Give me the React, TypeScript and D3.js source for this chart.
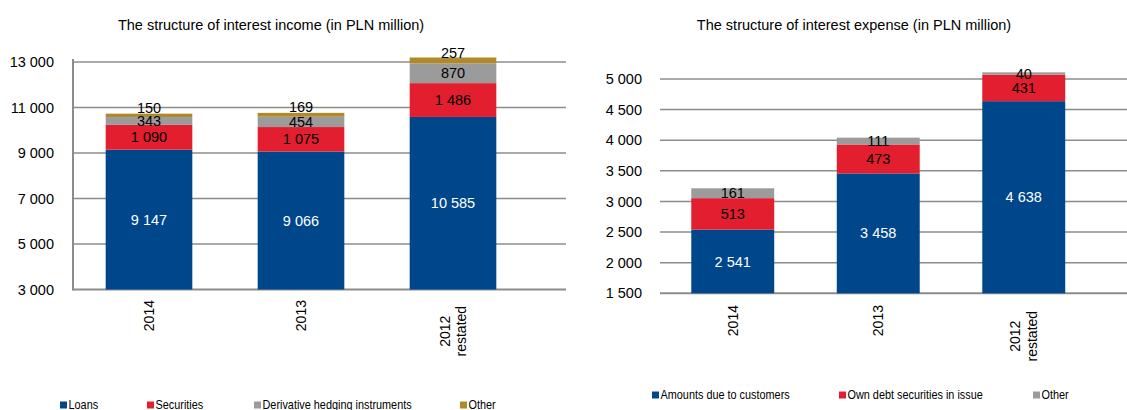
import React from "react";
import * as d3 from "d3";

const incomeYears = ["2014", "2013", "2012\nrestated"];
const incomeSeries = ["Loans", "Securities", "Derivative hedging instruments", "Other"];
const incomeLoans = [9147, 9066, 10585];
const incomeSecurities = [1090, 1075, 1486];
const incomeDerivatives = [343, 454, 870];
const incomeOther = [150, 169, 257];
const incomeTicks = [3000, 5000, 7000, 9000, 11000, 13000];

const expenseYears = ["2014", "2013", "2012\nrestated"];
const expenseSeries = ["Amounts due to customers", "Own debt securities in issue", "Other"];
const expenseCustomers = [2541, 3458, 4638];
const expenseDebt = [513, 473, 431];
const expenseOther = [161, 111, 40];
const expenseTicks = [1500, 2000, 2500, 3000, 3500, 4000, 4500, 5000];

const BLUE = "#00468B";
const RED = "#E31E2E";
const GRAY = "#9B9B9B";
const GOLD = "#B08A2A";
const GRID = "#8C8C8C";
const FONT = "'Liberation Sans', Arial, sans-serif";

const fmt = (v: number) => {
  const s = String(Math.round(v));
  return s.replace(/\B(?=(\d{3})+(?!\d))/g, " ");
};

type PanelProps = {
  title: string;
  titleX: number;
  categories: string[];
  seriesNames: string[];
  seriesValues: number[][];
  colors: string[];
  labelColors: string[];
  labelOffsets: number[];
  ticks: number[];
  yDomain: [number, number];
  yRange: [number, number];
  xRange: [number, number];
  gridX: [number, number];
  axisLineX: number | null;
  tickLabelX: number;
  xLabelTop: number;
  legendY: number;
  legendX: number[];
  padding: number;
};

function Panel(p: PanelProps) {
  const y = d3.scaleLinear().domain(p.yDomain).range(p.yRange);
  const x = d3
    .scaleBand<string>()
    .domain(p.categories)
    .range(p.xRange)
    .paddingInner(p.padding)
    .paddingOuter(p.padding / 2);

  const table = p.categories.map((c, i) => {
    const row: any = { cat: c };
    p.seriesNames.forEach((s, j) => (row[s] = p.seriesValues[j][i]));
    return row;
  });
  const stacked = d3.stack<any>().keys(p.seriesNames)(table);
  const [y0, y1] = p.yDomain;

  return (
    <g>
      <text
        x={p.titleX}
        y={30}
        textAnchor="middle"
        fontSize={14.5}
        fontFamily={FONT}
        fill="#000"
      >
        {p.title}
      </text>
      {p.ticks.map((t, i) => (
        <g key={t}>
          <line
            x1={p.gridX[0]}
            x2={p.gridX[1]}
            y1={y(t)}
            y2={y(t)}
            stroke={GRID}
            strokeWidth={i === 0 ? 2 : 1.5}
          />
          <text
            x={p.tickLabelX}
            y={y(t)}
            dy="0.35em"
            textAnchor="end"
            fontSize={14.5}
            fontFamily={FONT}
            fill="#000"
          >
            {fmt(t)}
          </text>
        </g>
      ))}
      {p.axisLineX !== null && (
        <line
          x1={p.axisLineX}
          x2={p.axisLineX}
          y1={y(y1) - 3}
          y2={y(y0) + 1}
          stroke={GRID}
          strokeWidth={2}
        />
      )}
      {stacked.map((layer, j) => (
        <g key={layer.key}>
          {layer.map((d, i) => {
            const lo = Math.max(d[0], y0);
            const hi = d[1];
            return (
              <rect
                key={i}
                x={x(p.categories[i])}
                width={x.bandwidth()}
                y={y(hi)}
                height={y(lo) - y(hi)}
                fill={p.colors[j]}
              />
            );
          })}
        </g>
      ))}
      {stacked.map((layer, j) => (
        <g key={"l" + layer.key}>
          {layer.map((d, i) => {
            const lo = Math.max(d[0], y0);
            const mid = (lo + d[1]) / 2;
            return (
              <text
                key={i}
                x={(x(p.categories[i]) as number) + x.bandwidth() / 2}
                y={y(mid) + p.labelOffsets[j]}
                dy="0.35em"
                textAnchor="middle"
                fontSize={14.5}
                fontFamily={FONT}
                fill={p.labelColors[j]}
              >
                {fmt(d[1] - d[0])}
              </text>
            );
          })}
        </g>
      ))}
      {p.categories.map((c) => {
        const lines = c.split("\n");
        const cx = (x(c) as number) + x.bandwidth() / 2;
        const maxLen = d3.max(lines, (l) => l.length * 7.8) as number;
        const cy = p.xLabelTop + maxLen / 2;
        const n = lines.length;
        return (
          <g key={c}>
            {lines.map((l, k) => {
              const lx = cx + (k - (n - 1) / 2) * 16.5;
              return (
                <text
                  key={k}
                  transform={`translate(${lx},${cy}) rotate(-90)`}
                  textAnchor="middle"
                  dy="0.35em"
                  fontSize={14}
                  fontFamily={FONT}
                  fill="#000"
                >
                  {l}
                </text>
              );
            })}
          </g>
        );
      })}
      {p.seriesNames.map((s, j) => (
        <g key={"lg" + s}>
          <rect
            x={p.legendX[j]}
            y={p.legendY - 3.5}
            width={7}
            height={7}
            fill={p.colors[j]}
          />
          <g transform={`translate(${p.legendX[j] + 8.5},${p.legendY}) scale(0.87,1)`}>
            <text
              x={0}
              y={0}
              dy="0.35em"
              fontSize={12.5}
              fontFamily={FONT}
              fill="#000"
            >
              {s}
            </text>
          </g>
        </g>
      ))}
    </g>
  );
}

export default function App() {
  return (
    <svg
      width={1127}
      height={410}
      style={{ position: "absolute", left: 0, top: 0, background: "#fff" }}
    >
      <Panel
        title="The structure of interest income (in PLN million)"
        titleX={271}
        categories={incomeYears}
        seriesNames={incomeSeries}
        seriesValues={[incomeLoans, incomeSecurities, incomeDerivatives, incomeOther]}
        colors={[BLUE, RED, GRAY, GOLD]}
        labelColors={["#fff", "#000", "#000", "#000"]}
        labelOffsets={[0, 0, 0, -7.5]}
        ticks={incomeTicks}
        yDomain={[3000, 13000]}
        yRange={[289.5, 62]}
        xRange={[73, 529]}
        gridX={[73, 566]}
        axisLineX={73}
        tickLabelX={54}
        xLabelTop={300}
        legendY={405}
        legendX={[60, 147, 254, 460]}
        padding={0.43}
      />
      <Panel
        title="The structure of interest expense (in PLN million)"
        titleX={854}
        categories={expenseYears}
        seriesNames={expenseSeries}
        seriesValues={[expenseCustomers, expenseDebt, expenseOther]}
        colors={[BLUE, RED, GRAY]}
        labelColors={["#fff", "#000", "#000"]}
        labelOffsets={[0, 0, 0]}
        ticks={expenseTicks}
        yDomain={[1500, 5000]}
        yRange={[293.3, 79]}
        xRange={[660, 1096.5]}
        gridX={[660, 1127]}
        axisLineX={null}
        tickLabelX={642}
        xLabelTop={305}
        legendY={395}
        legendX={[652, 839, 1033]}
        padding={0.43}
      />
    </svg>
  );
}
